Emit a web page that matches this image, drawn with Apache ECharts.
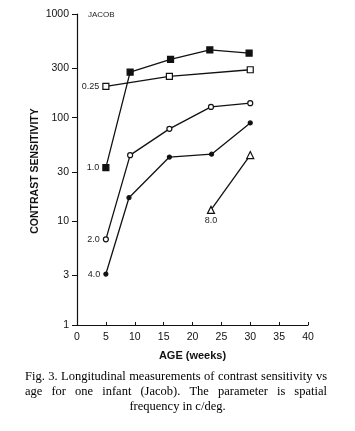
<!DOCTYPE html>
<html>
<head>
<meta charset="utf-8">
<script src="https://cdn.jsdelivr.net/npm/echarts@6/dist/echarts.min.js"></script>
<style>
  html, body { margin: 0; padding: 0; background: #fff; }
  #chart { width: 355px; height: 431px; }
</style>
</head>
<body>
<div id="chart"></div>
<script>
// spatial frequency (c/deg) -> [age in weeks, contrast sensitivity]
var sf025 = [[5, 200], [16, 250], [30, 290]];
var sf10 = [[5, 33], [9.2, 275], [16.2, 365], [23, 450], [29.8, 420]];
var sf20 = [[5, 6.7], [9.2, 43.5], [16, 78], [23.2, 127], [30, 138]];
var sf40 = [[5, 3.1], [9, 16.9], [16, 41.7], [23.3, 44.4], [30, 89]];
var sf80 = [[23.2, 12.9], [30, 43.6]];
var yTicks = [1, 3, 10, 30, 100, 300, 1000];

var captionLines = [
  "Fig. 3. Longitudinal measurements of contrast sensitivity vs",
  "age for one infant (Jacob). The parameter is spatial",
  "frequency in c/deg."
];

var chart = echarts.init(document.getElementById("chart"));

function mkSeries(name, data, symbol, size, filled, labelPos) {
  return {
    name: name,
    type: "line",
    data: data.map(function (d, i) {
      var item = { value: d };
      if (i === 0) {
        item.label = {
          show: true,
          position: labelPos,
          distance: labelPos === "bottom" ? 2 : 3,
          formatter: name,
          color: "#222",
          fontSize: 9,
          fontFamily: "Liberation Sans"
        };
      }
      return item;
    }),
    symbol: symbol,
    symbolSize: size,
    showAllSymbol: true,
    lineStyle: { color: "#111", width: 1.3 },
    itemStyle: {
      color: filled ? "#111" : "#fff",
      borderColor: "#111",
      borderWidth: 1.2
    },
    z: 3
  };
}

// caption: first two lines justified, last centred
var measure = document.createElement("canvas").getContext("2d");
var capFont = "12.5px 'Liberation Serif'";
measure.font = capFont;
var capLeft = 25, capRight = 327;
var capY = [377, 392, 407];
var graphics = [];
captionLines.forEach(function (line, li) {
  if (li === captionLines.length - 1) {
    graphics.push({
      type: "text",
      left: "center",
      top: capY[li] - 7,
      style: { text: line, font: capFont, fill: "#000" }
    });
    return;
  }
  var words = line.split(" ");
  var total = 0;
  words.forEach(function (w) { total += measure.measureText(w).width; });
  var gap = (capRight - capLeft - total) / (words.length - 1);
  var x = capLeft;
  words.forEach(function (w) {
    graphics.push({
      type: "text",
      x: x,
      y: capY[li],
      style: { text: w, font: capFont, fill: "#000", verticalAlign: "middle" }
    });
    x += measure.measureText(w).width + gap;
  });
});
graphics.push({
  type: "text",
  x: 88,
  y: 15,
  style: { text: "JACOB", font: "8px 'Liberation Sans'", fill: "#222", verticalAlign: "middle" }
});
// y axis title
graphics.push({
  type: "text",
  x: 35,
  y: 171,
  rotation: Math.PI / 2,
  style: {
    text: "CONTRAST SENSITIVITY",
    font: "bold 10.5px 'Liberation Sans'",
    fill: "#111",
    align: "center",
    verticalAlign: "middle"
  }
});

var option = {
  backgroundColor: "#fff",
  animation: false,
  grid: { left: 77, right: 47, top: 14, bottom: 106 },
  xAxis: {
    type: "value",
    min: 0,
    max: 40,
    interval: 5,
    name: "AGE (weeks)",
    nameLocation: "middle",
    nameGap: 25,
    nameTextStyle: { color: "#111", fontSize: 11, fontWeight: "bold", fontFamily: "Liberation Sans" },
    axisLine: { lineStyle: { color: "#111", width: 1.2 } },
    axisTick: { inside: true, length: 3, lineStyle: { color: "#111" } },
    axisLabel: { color: "#111", fontSize: 10.5, margin: 7, fontFamily: "Liberation Sans" },
    splitLine: { show: false }
  },
  yAxis: {
    type: "log",
    logBase: 10,
    min: 1,
    max: 1000,
    axisLine: { show: true, lineStyle: { color: "#111", width: 1.2 } },
    axisTick: { show: true, length: 5, customValues: yTicks, lineStyle: { color: "#111" } },
    axisLabel: {
      color: "#111",
      fontSize: 10.5,
      margin: 8,
      fontFamily: "Liberation Sans",
      customValues: yTicks,
      formatter: function (v) { return String(v); }
    },
    minorTick: { show: false },
    splitLine: { show: false }
  },
  graphic: graphics,
  series: [
    mkSeries("0.25", sf025, "rect", 6, false, "left"),
    mkSeries("1.0", sf10, "rect", 6, true, "left"),
    mkSeries("2.0", sf20, "circle", 5, false, "left"),
    mkSeries("4.0", sf40, "circle", 4, true, "left"),
    mkSeries("8.0", sf80, "triangle", 7, false, "bottom")
  ]
};
chart.setOption(option);
</script>
</body>
</html>
